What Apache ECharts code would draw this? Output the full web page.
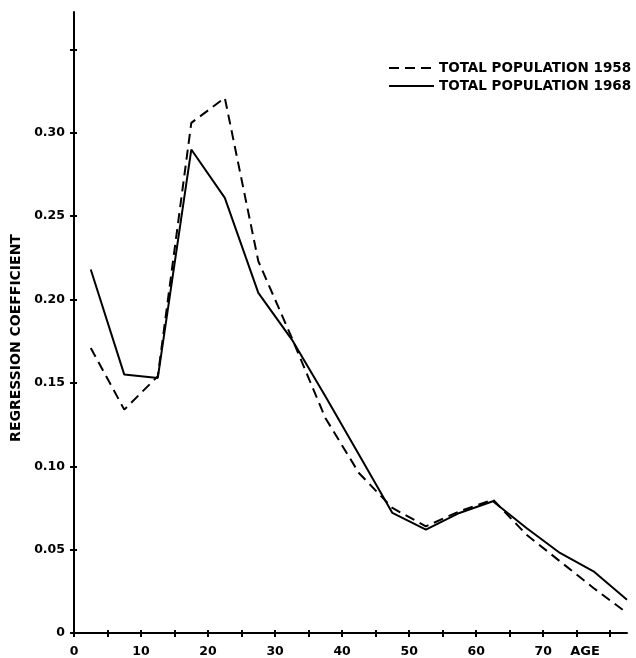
<!DOCTYPE html>
<html>
<head>
<meta charset="utf-8">
<script src="https://cdn.jsdelivr.net/npm/echarts@6/dist/echarts.min.js"></script>
<style>
  html, body { margin: 0; padding: 0; background: #fff; }
  #chart { width: 636px; height: 658px; }
</style>
</head>
<body>
<div id="chart"></div>
<script>
// Age-group midpoints (years) and regression coefficients for each survey year
const ages = [2.5, 7.5, 12.5, 17.5, 22.5, 27.5, 32.5, 37.5, 42.5, 47.5, 52.5, 57.5, 62.5, 67.5, 72.5, 77.5, 82.5];
const coef1958 = [0.171, 0.134, 0.154, 0.306, 0.321, 0.223, 0.177, 0.129, 0.096, 0.075, 0.064, 0.073, 0.080, 0.059, 0.043, 0.027, 0.012];
const coef1968 = [0.218, 0.155, 0.153, 0.290, 0.261, 0.204, 0.176, 0.142, 0.107, 0.072, 0.062, 0.072, 0.079, 0.063, 0.048, 0.037, 0.020];

const seriesNames = ['TOTAL POPULATION 1958', 'TOTAL POPULATION 1968'];

// Axis ticks and labels
const xTickValues = [0, 5, 10, 15, 20, 25, 30, 35, 40, 45, 50, 55, 60, 65, 70, 75, 80];
const xLabelValues = [0, 10, 20, 30, 40, 50, 60, 70];
const yTickValues = [0, 0.05, 0.10, 0.15, 0.20, 0.25, 0.30, 0.35];
const yLabelValues = [0, 0.05, 0.10, 0.15, 0.20, 0.25, 0.30];

const FONT = 'DejaVu Sans';
const INK = '#000';

const chart = echarts.init(document.getElementById('chart'), null, { renderer: 'canvas' });

const labelStyle = { color: INK, fontFamily: FONT, fontWeight: 'bold', fontSize: 12.5 };

const option = {
  backgroundColor: '#fff',
  animation: false,
  grid: { left: 74, right: 9, top: 12, bottom: 25 },
  legend: {
    orient: 'vertical',
    left: 383,
    top: 56,
    itemWidth: 45,
    itemHeight: 10,
    itemGap: 4,
    data: seriesNames,
    // hide the point marker so only the line sample shows
    itemStyle: { opacity: 0 },
    textStyle: { color: INK, fontFamily: FONT, fontWeight: 'bold', fontSize: 13.5 }
  },
  xAxis: [
    {
      type: 'value', min: 0, max: 82.5,
      axisLine: { lineStyle: { color: INK, width: 2 } },
      axisTick: { customValues: xTickValues, length: 4, lineStyle: { color: INK, width: 2 } },
      axisLabel: Object.assign({ customValues: xLabelValues, margin: 12, formatter: v => String(v) }, labelStyle),
      splitLine: { show: false }
    },
    {
      type: 'value', min: 0, max: 82.5, position: 'bottom',
      axisLine: { show: false },
      axisTick: { customValues: xTickValues, inside: true, length: 3, lineStyle: { color: INK, width: 2 } },
      axisLabel: { show: false },
      splitLine: { show: false }
    }
  ],
  yAxis: [
    {
      type: 'value', min: 0, max: 0.3725,
      axisLine: { show: true, lineStyle: { color: INK, width: 2 } },
      axisTick: { show: true, customValues: yTickValues, length: 4, lineStyle: { color: INK, width: 2 } },
      axisLabel: Object.assign({
        customValues: yLabelValues, margin: 9,
        formatter: v => (v === 0 ? '0' : v.toFixed(2))
      }, labelStyle),
      splitLine: { show: false }
    },
    {
      type: 'value', min: 0, max: 0.3725, position: 'left',
      axisLine: { show: false },
      axisTick: { show: true, customValues: yTickValues, inside: true, length: 3, lineStyle: { color: INK, width: 2 } },
      axisLabel: { show: false },
      splitLine: { show: false }
    }
  ],
  graphic: [
    {
      type: 'text', x: 16, y: 338, rotation: Math.PI / 2,
      style: { text: 'REGRESSION COEFFICIENT', fill: INK, font: 'bold 14px "DejaVu Sans"', align: 'center', verticalAlign: 'middle' }
    },
    {
      type: 'text', x: 585, y: 652,
      style: { text: 'AGE', fill: INK, font: 'bold 13px "DejaVu Sans"', align: 'center', verticalAlign: 'middle' }
    }
  ],
  series: [
    {
      name: seriesNames[0], type: 'line', symbol: 'none',
      xAxisIndex: 0, yAxisIndex: 0,
      lineStyle: { color: INK, width: 2, type: [10, 6] },
      itemStyle: { color: INK },
      data: ages.map((a, i) => [a, coef1958[i]])
    },
    {
      name: seriesNames[1], type: 'line', symbol: 'none',
      xAxisIndex: 0, yAxisIndex: 0,
      lineStyle: { color: INK, width: 2, type: 'solid' },
      itemStyle: { color: INK },
      data: ages.map((a, i) => [a, coef1968[i]])
    }
  ]
};

chart.setOption(option);
</script>
</body>
</html>
